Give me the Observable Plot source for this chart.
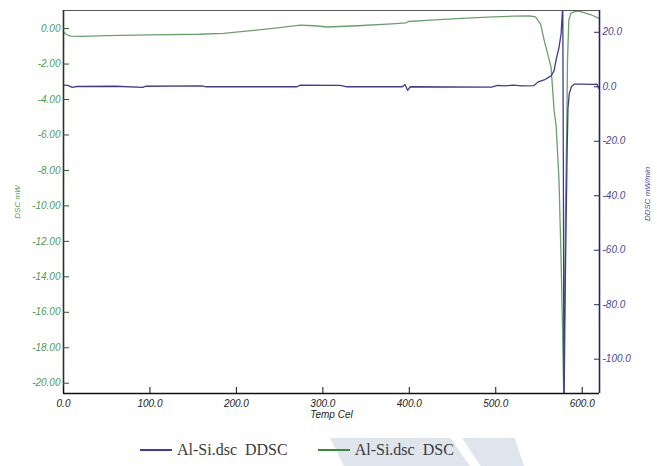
<!DOCTYPE html>
<html><head><meta charset="utf-8">
<script src="https://cdn.jsdelivr.net/npm/d3@7"></script>
<script src="https://cdn.jsdelivr.net/npm/@observablehq/plot@0.6"></script>
<style>
body{margin:0;background:#fff;}
#wrap{position:relative;width:657px;height:466px;overflow:hidden;background:#fff;}
#chart svg{display:block;}
.wm{position:absolute;background:#dfe5ec;}
#legend{position:absolute;left:140px;top:440px;height:20px;display:flex;align-items:center;font-family:"Liberation Serif","DejaVu Serif",serif;font-size:16px;color:#3a3a3a;white-space:pre;}
.sw{display:inline-block;width:32px;height:2px;margin-right:5px;}
</style></head><body>
<div id="wrap">
<div class="wm" style="left:330px;top:438px;width:140px;height:28px;clip-path:polygon(0 0,86% 0,100% 100%,10% 100%);"></div>
<div class="wm" style="left:462px;top:438px;width:62px;height:28px;clip-path:polygon(0 0,85% 0,100% 100%,30% 100%);"></div>
<div id="chart"></div>
<div id="legend"></div>
</div>
<script>
// DSC (left axis, mW)
const dscTemp  = [0, 3, 8, 20, 50, 100, 157, 185, 220, 250, 274, 290, 305, 340, 380, 396, 399, 420, 460, 497, 520, 540, 546, 552, 556, 560.5, 564, 567.5, 569.8, 573.2, 575.6, 577.3, 578.7, 579.6, 580.8, 582.1, 583, 584.5, 587, 590.6, 596.4, 601, 610.3, 619.6];
const dscValue = [-0.19, -0.32, -0.42, -0.44, -0.40, -0.36, -0.32, -0.27, -0.10, 0.05, 0.19, 0.16, 0.09, 0.16, 0.27, 0.32, 0.40, 0.46, 0.58, 0.66, 0.70, 0.71, 0.66, 0.24, -0.66, -1.51, -2.19, -4.62, -5.47, -8.59, -13.1, -17.1, -21.0, -15.4, -9.7, -5.76, -1.8, 0.47, 0.87, 0.95, 0.98, 0.92, 0.78, 0.57];
// DDSC (right axis, mW/min)
const ddscTemp  = [0, 5, 10, 15, 60, 92, 95, 160, 165, 270, 274, 320, 328, 392, 395, 398, 401, 495, 502, 510, 520, 530, 544, 549, 556, 564, 567.5, 570, 573.2, 575.6, 577.5, 578.2, 578.9, 580.5, 582.5, 583.5, 585, 587.5, 591, 600, 612, 617, 619, 620];
const ddscValue = [0.6, 0.5, -0.2, 0.1, 0.2, -0.2, 0.2, 0.3, 0.0, 0.0, 0.6, 0.5, 0.0, 0.0, 0.8, -1.3, 0.0, -0.1, 0.5, 0.3, 0.6, 0.3, 0.4, 1.8, 2.5, 4.0, 5.9, 10.2, 14.5, 19.5, 30, -30, -120, -70, -25, -8, -2.5, 0, 1.0, 1.0, 0.9, 1.0, -0.5, -0.6];

const xTicks = [0, 100, 200, 300, 400, 500, 600];
const dscTicks = [0, -2, -4, -6, -8, -10, -12, -14, -16, -18, -20];
const ddscTicks = [20, 0, -20, -40, -60, -80, -100];
const xLabel = "Temp Cel";
const dscLabel = "DSC mW";
const ddscLabel = "DDSC mW/min";
const seriesNames = ["Al-Si.dsc DDSC", "Al-Si.dsc DSC"];
const seriesColors = ["#3b3bc0", "#3a8a3a"];

const xDomain = [0, 620];
const dscDomain = [-20.58, 1.02];
const ddscDomain = [-112.6, 28];
const toLeft = d3.scaleLinear().domain(ddscDomain).range(dscDomain);

const dsc = dscTemp.map((t, i) => ({t, v: dscValue[i]}));
const ddsc = ddscTemp.map((t, i) => ({t, v: toLeft(ddscValue[i])}));

const green = "#4f9a55";
const blue = "#46469a";
const tickFont = {fontStyle: "italic", fontSize: 10};

const chart = Plot.plot({
  width: 657, height: 430,
  marginLeft: 63, marginRight: 58, marginTop: 10, marginBottom: 37,
  x: {domain: xDomain},
  y: {domain: dscDomain},
  style: {fontFamily: "'Liberation Sans', Arial, sans-serif", fontSize: "10px", background: "white"},
  marks: [
    Plot.line(dsc, {x: "t", y: "v", stroke: "#6aa06e", strokeWidth: 1.3, clip: true}),
    Plot.line(ddsc, {x: "t", y: "v", stroke: "#3d3d92", strokeWidth: 1.3, clip: true}),
    Plot.ruleY([dscDomain[1]], {stroke: "#555", strokeWidth: 1.2}),
    Plot.ruleY([dscDomain[0]], {stroke: "#111", strokeWidth: 1.6}),
    Plot.ruleX([xDomain[0]], {stroke: "#1e3a1e", strokeWidth: 1.6}),
    Plot.ruleX([xDomain[1]], {stroke: "#25255a", strokeWidth: 1.6}),
    Plot.axisX(xTicks, {anchor: "bottom", tickSize: -6, tickPadding: 12, tickFormat: d => d.toFixed(1), stroke: "#111", fill: "#222", label: null, ...tickFont}),
    Plot.axisY(dscTicks, {anchor: "left", tickSize: -6, tickPadding: 9, tickFormat: d => d.toFixed(2), stroke: "#2d5a2d", fill: green, label: null, ...tickFont}),
    Plot.axisY(ddscTicks.map(toLeft), {anchor: "right", tickSize: -6, tickPadding: 9, tickFormat: d => (Math.round(toLeft.invert(d) * 10) / 10 + 0).toFixed(1), stroke: "#2d2d66", fill: blue, label: null, ...tickFont}),
    Plot.text([xLabel], {frameAnchor: "bottom", dy: 24, fill: "#222", ...tickFont}),
    Plot.text([dscLabel], {frameAnchor: "left", dx: -46, rotate: -90, textAnchor: "middle", fill: green, fontStyle: "italic", fontSize: 8}),
    Plot.text([ddscLabel], {frameAnchor: "right", dx: 48, dy: -8, rotate: -90, textAnchor: "middle", fill: blue, fontStyle: "italic", fontSize: 8})
  ]
});
document.getElementById("chart").appendChild(chart);

const legend = document.getElementById("legend");
seriesNames.forEach((name, i) => {
  const item = document.createElement("span");
  item.style.display = "inline-flex";
  item.style.alignItems = "center";
  item.style.marginRight = i === 0 ? "30px" : "0";
  const sw = document.createElement("span");
  sw.className = "sw";
  sw.style.background = seriesColors[i];
  const tx = document.createElement("span");
  tx.textContent = name.replace(" ", "  ");
  item.appendChild(sw); item.appendChild(tx);
  legend.appendChild(item);
});
</script>
</body></html>
